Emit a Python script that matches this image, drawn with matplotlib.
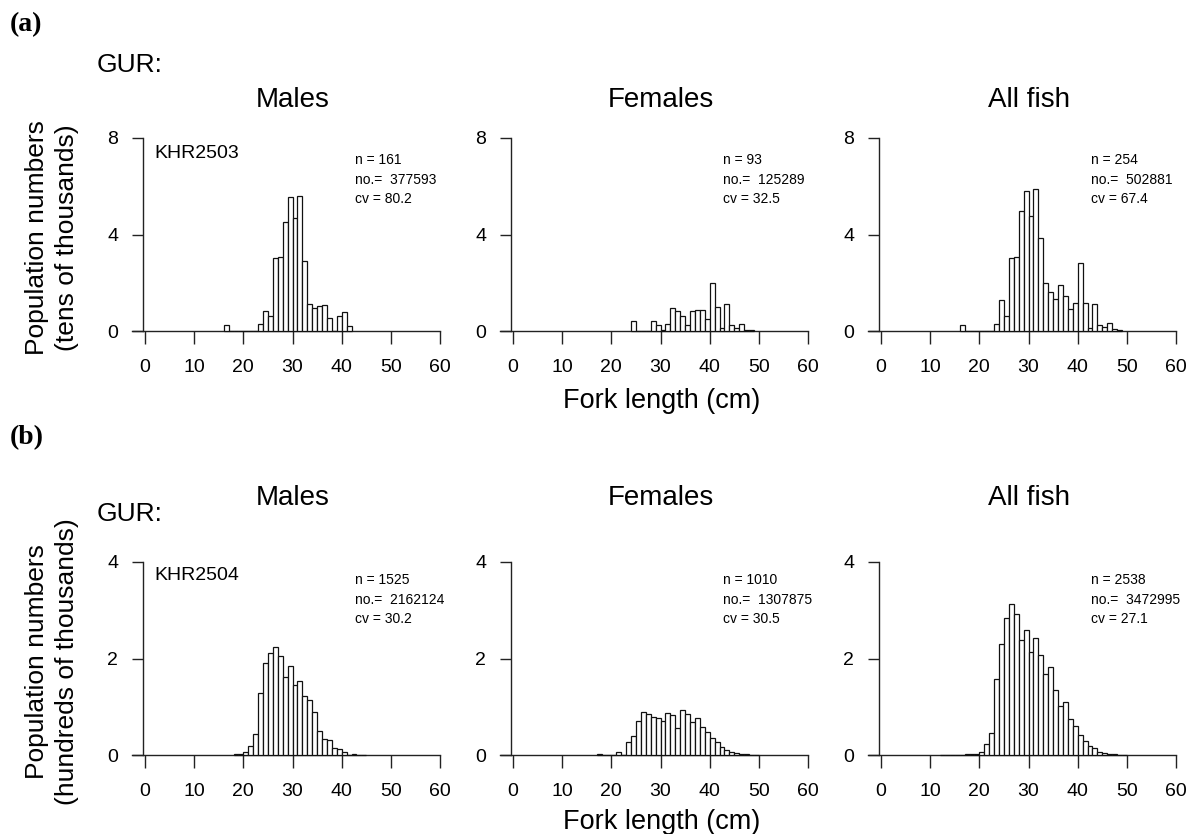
import matplotlib
matplotlib.use("Agg")
import matplotlib.pyplot as plt

# ----------------------------
# Data (bin width 1 cm, first bin start + heights)
# ----------------------------

# (a) KHR2503, tens of thousands
males_a_start = 16
males_a = [0.25, 0, 0, 0, 0, 0, 0, 0.29, 0.84, 0.62, 3.04, 3.06, 4.52, 5.55,
           4.67, 5.58, 2.91, 1.13, 0.95, 1.02, 1.09, 0.55, 0, 0.61, 0.77, 0.21]

females_a_start = 24
females_a = [0.43, 0, 0, 0, 0.43, 0.25, 0.06, 0.30, 0.95, 0.84, 0.62, 0.23,
             0.83, 0.88, 0.88, 0.50, 1.98, 0.98, 0.11, 1.12, 0.23, 0.14,
             0.30, 0.06, 0.03]

all_a_start = 16
all_a = [0.25, 0, 0, 0, 0, 0, 0, 0.29, 1.27, 0.62, 3.04, 3.06, 4.96, 5.80,
         4.75, 5.90, 3.86, 2.00, 1.60, 1.31, 1.89, 1.47, 0.91, 1.14, 2.80,
         1.18, 0.14, 1.13, 0.25, 0.17, 0.32, 0.08, 0.03]

# (b) KHR2504, hundreds of thousands
males_b_start = 18
males_b = [0.03, 0.03, 0.06, 0.18, 0.43, 1.29, 1.90, 2.12, 2.23, 2.06, 1.61,
           1.85, 1.46, 1.53, 1.23, 1.13, 0.89, 0.50, 0.34, 0.32, 0.14, 0.13,
           0.06, 0.01, 0.03, 0, 0.01]

females_b_start = 17
females_b = [0.03, 0.01, 0, 0.01, 0.07, 0.01, 0.26, 0.39, 0.70, 0.90, 0.86,
             0.79, 0.76, 0.71, 0.88, 0.82, 0.55, 0.93, 0.86, 0.68, 0.76,
             0.59, 0.48, 0.35, 0.27, 0.16, 0.11, 0.06, 0.04, 0.02, 0.03, 0,
             0.01]

all_b_start = 12
all_b = [0.01, 0, 0, 0, 0, 0.03, 0.03, 0.03, 0.07, 0.22, 0.45, 1.57, 2.30,
         2.83, 3.13, 2.92, 2.38, 2.60, 2.14, 2.42, 2.08, 1.68, 1.83, 1.34,
         1.01, 1.10, 0.74, 0.61, 0.41, 0.28, 0.19, 0.14, 0.07, 0.05, 0.03,
         0.03, 0.01, 0.01]

titles = ["Males", "Females", "All fish"]
stats_a = [("161", "377593", "80.2"), ("93", "125289", "32.5"), ("254", "502881", "67.4")]
stats_b = [("1525", "2162124", "30.2"), ("1010", "1307875", "30.5"), ("2538", "3472995", "27.1")]
x_ticks = [0, 10, 20, 30, 40, 50, 60]

# ----------------------------
# Layout helpers (pixels)
# ----------------------------

W, H = 1190, 834
PX_CM = 4.917
X0_PX = [145, 513, 881]
SANS = "Liberation Sans"

plt.rcParams["font.family"] = SANS

fig = plt.figure(figsize=(11.9, 8.34), dpi=100)


def ftext(x, y, s, **kw):
    fig.text(x / W, 1 - y / H, s, **kw)


def make_ax(x0px, y0px, ppu, ytop):
    xlo, xhi = -3.0, 61.0
    ylo = -50.0 / ppu
    yhi = ytop + 12.0 / ppu
    left = (x0px + xlo * PX_CM) / W
    width = (xhi - xlo) * PX_CM / W
    bottom = 1 - (y0px - ylo * ppu) / H
    height = (yhi - ylo) * ppu / H
    ax = fig.add_axes([left, bottom, width, height])
    ax.set_xlim(xlo, xhi)
    ax.set_ylim(ylo, yhi)
    ax.patch.set_visible(False)
    for s in ["top", "right"]:
        ax.spines[s].set_visible(False)
    ax.spines["bottom"].set_position(("data", 0))
    ax.spines["bottom"].set_bounds(-2.6, 60)
    ax.spines["left"].set_position(("data", -0.4))
    ax.spines["left"].set_bounds(0, ytop)
    for s in ["bottom", "left"]:
        ax.spines[s].set_linewidth(1.0)
        ax.spines[s].set_color("#222222")
    ax.set_xticks(x_ticks)
    ax.set_yticks([0, ytop / 2, ytop])
    ax.set_yticklabels([str(int(v)) for v in [0, ytop / 2, ytop]])
    ax.tick_params(axis="x", length=9.5, width=1.0, pad=10.5, labelsize=14, color="#222222")
    ax.tick_params(axis="y", length=8, width=1.0, pad=10, labelsize=14, color="#222222")
    return ax


def draw_hist(ax, start, heights):
    edges = [start + i for i in range(len(heights))]
    ax.bar(edges, heights, width=1.0, align="edge", facecolor="white",
           edgecolor="#111111", linewidth=0.9, zorder=3)


rows = [
    dict(y0=331, ppu=24.125, ytop=8, label="(a)", label_y=25, gur_y=65, title_y=100,
         survey="KHR2503", stats=stats_a, stat_y=160, survey_y=153, xlab_y=401,
         ylab="(tens of thousands)", ylab_y=238,
         data=[(males_a_start, males_a), (females_a_start, females_a), (all_a_start, all_a)]),
    dict(y0=755, ppu=48.25, ytop=4, label="(b)", label_y=438, gur_y=514, title_y=498,
         survey="KHR2504", stats=stats_b, stat_y=580, survey_y=575, xlab_y=822,
         ylab="(hundreds of thousands)", ylab_y=662,
         data=[(males_b_start, males_b), (females_b_start, females_b), (all_b_start, all_b)]),
]

for row in rows:
    ftext(10, row["label_y"], row["label"], fontsize=20, fontweight="bold",
          family="Liberation Serif", ha="left", va="center")
    ftext(97, row["gur_y"], "GUR:", fontsize=19, ha="left", va="center")
    ftext(37, row["ylab_y"], "Population numbers", fontsize=19, rotation=90,
          ha="center", va="center")
    ftext(67, row["ylab_y"], row["ylab"], fontsize=19, rotation=90,
          ha="center", va="center")
    ftext(662, row["xlab_y"], "Fork length (cm)", fontsize=19.5, ha="center", va="center")

    for k, (start, heights) in enumerate(row["data"]):
        x0 = X0_PX[k]
        ax = make_ax(x0, row["y0"], row["ppu"], row["ytop"])
        draw_hist(ax, start, heights)
        ftext(x0 + 30 * PX_CM, row["title_y"], titles[k], fontsize=20,
              ha="center", va="center")
        n, no, cv = row["stats"][k]
        lines = ["n = " + n, "no.=  " + no, "cv = " + cv]
        for i, s in enumerate(lines):
            ftext(x0 + 42.7 * PX_CM, row["stat_y"] + 19.5 * i, s, fontsize=10,
                  ha="left", va="center")
        if k == 0:
            ftext(x0 + 2 * PX_CM, row["survey_y"], row["survey"], fontsize=14,
                  ha="left", va="center")

fig.savefig("out.png", dpi=100)
plt.close(fig)
